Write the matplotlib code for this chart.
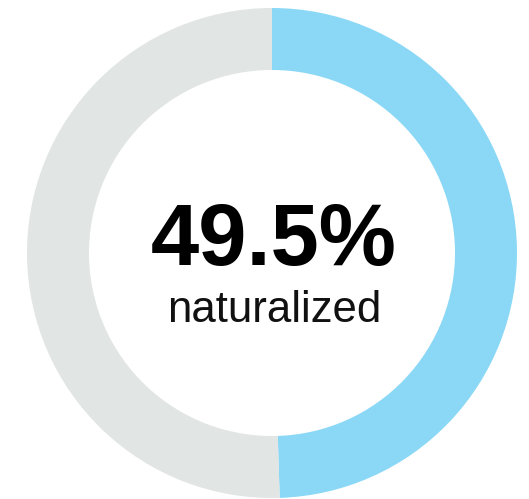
import matplotlib.pyplot as plt

LABELS = ['naturalized', 'other']
SHARES = [49.5, 50.5]
COLORS = ['#8AD8F6', '#E1E5E4']
CENTER_VALUE = '49.5%'
CENTER_LABEL = 'naturalized'


def main():
    fig = plt.figure(figsize=(5.29, 4.99), dpi=100)
    ax = fig.add_axes([0, 0, 1, 1])

    ax.pie(SHARES, colors=COLORS, center=(272, 246), radius=245,
           startangle=90, counterclock=False,
           wedgeprops=dict(width=62, linewidth=0))
    ax.set_xlim(0, 529)
    ax.set_ylim(0, 499)
    ax.axis('off')

    ax.text(274, 234, CENTER_VALUE, ha='center', va='baseline',
            fontsize=62.5, fontweight='bold', family='Liberation Sans',
            color='#000000')
    ax.text(274.5, 177, CENTER_LABEL, ha='center', va='baseline',
            fontsize=31.5, family='Liberation Sans', color='#111111')

    fig.savefig('out.png', dpi=100, facecolor='white')


if __name__ == '__main__':
    main()
